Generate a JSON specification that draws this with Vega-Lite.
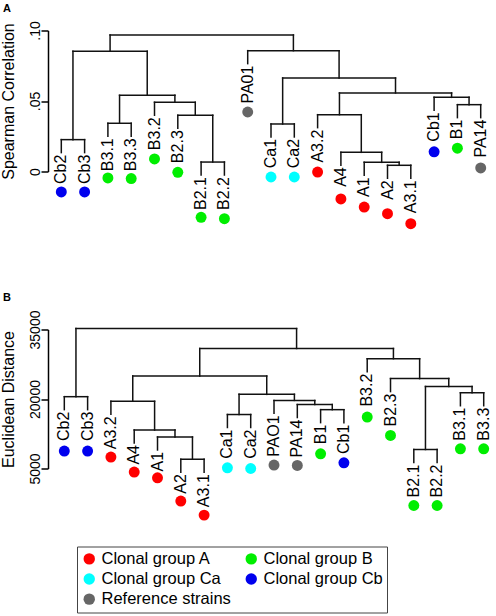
{
 "$schema": "https://vega.github.io/schema/vega-lite/v6.json",
 "padding": {"left": 0, "top": 2.5, "right": 2, "bottom": 0},
 "bounds": "flush",
 "spacing": 158,
 "config": {"view": {"stroke": null}, "font": "Liberation Sans", "axis": {"grid": false, "labelFlush": false, "labelOverlap": false, "domainColor": "#000", "tickColor": "#000", "labelColor": "#000", "titleColor": "#000", "domainWidth": 1.5, "tickWidth": 1.5, "tickSize": 7, "labelPadding": 1.5, "labelFontSize": 14, "labelAngle": 270, "labelAlign": "center", "labelBaseline": "alphabetic", "titleFontSize": 16, "titleFontWeight": "normal", "titlePadding": 12}},
 "datasets": {
  "nodesA": [
   {"x1":0,"x2":1,"h":0.0226,"h1":0.0134,"h2":0.0134},
   {"x1":2,"x2":3,"h":0.0342,"h1":0.025,"h2":0.025},
   {"x1":6,"x2":7,"h":0.0067,"h1":-0.0025,"h2":-0.0025},
   {"x1":5,"x2":6.5,"h":0.0399,"h1":0.0307,"h2":0.0067},
   {"x1":4,"x2":5.75,"h":0.0491,"h1":0.0399,"h2":0.0399},
   {"x1":2.5,"x2":4.875,"h":0.054,"h1":0.0342,"h2":0.0491},
   {"x1":0.5,"x2":3.6875,"h":0.0852,"h1":0.0226,"h2":0.054},
   {"x1":9,"x2":10,"h":0.0337,"h1":0.0245,"h2":0.0245},
   {"x1":14,"x2":15,"h":0.0044,"h1":-0.0048,"h2":-0.0048},
   {"x1":13,"x2":14.5,"h":0.0065,"h1":-0.0027,"h2":0.0044},
   {"x1":12,"x2":13.75,"h":0.0136,"h1":0.0044,"h2":0.0065},
   {"x1":11,"x2":12.875,"h":0.0403,"h1":0.0311,"h2":0.0136},
   {"x1":17,"x2":18,"h":0.0474,"h1":0.0382,"h2":0.0382},
   {"x1":16,"x2":17.5,"h":0.0526,"h1":0.0434,"h2":0.0474},
   {"x1":11.9375,"x2":16.75,"h":0.0557,"h1":0.0403,"h2":0.0526},
   {"x1":9.5,"x2":14.34375,"h":0.0663,"h1":0.0337,"h2":0.0557},
   {"x1":8,"x2":11.921875,"h":0.0857,"h1":0.0765,"h2":0.0663},
   {"x1":2.09375,"x2":9.9609375,"h":0.0968,"h1":0.0852,"h2":0.0857}
  ],
  "leavesA": [
   {"leaf":"Cb2","x":0,"end":0.0134,"pt":-0.0145,"group":"Clonal group Cb"},
   {"leaf":"Cb3","x":1,"end":0.0134,"pt":-0.0145,"group":"Clonal group Cb"},
   {"leaf":"B3.1","x":2,"end":0.025,"pt":-0.0046,"group":"Clonal group B"},
   {"leaf":"B3.3","x":3,"end":0.025,"pt":-0.005,"group":"Clonal group B"},
   {"leaf":"B3.2","x":4,"end":0.0399,"pt":0.0089,"group":"Clonal group B"},
   {"leaf":"B2.3","x":5,"end":0.0307,"pt":-0.0006,"group":"Clonal group B"},
   {"leaf":"B2.1","x":6,"end":-0.0025,"pt":-0.0325,"group":"Clonal group B"},
   {"leaf":"B2.2","x":7,"end":-0.0025,"pt":-0.0335,"group":"Clonal group B"},
   {"leaf":"PA01","x":8,"end":0.0765,"pt":0.0422,"group":"Reference strains"},
   {"leaf":"Ca1","x":9,"end":0.0245,"pt":-0.0039,"group":"Clonal group Ca"},
   {"leaf":"Ca2","x":10,"end":0.0245,"pt":-0.0039,"group":"Clonal group Ca"},
   {"leaf":"A3.2","x":11,"end":0.0311,"pt":-0.0004,"group":"Clonal group A"},
   {"leaf":"A4","x":12,"end":0.0044,"pt":-0.0195,"group":"Clonal group A"},
   {"leaf":"A1","x":13,"end":-0.0027,"pt":-0.0252,"group":"Clonal group A"},
   {"leaf":"A2","x":14,"end":-0.0048,"pt":-0.0299,"group":"Clonal group A"},
   {"leaf":"A3.1","x":15,"end":-0.0048,"pt":-0.037,"group":"Clonal group A"},
   {"leaf":"Cb1","x":16,"end":0.0434,"pt":0.014,"group":"Clonal group Cb"},
   {"leaf":"B1","x":17,"end":0.0382,"pt":0.0165,"group":"Clonal group B"},
   {"leaf":"PA14","x":18,"end":0.0382,"pt":0.0025,"group":"Reference strains"}
  ],
  "nodesB": [
   {"x1":0,"x2":1,"h":20500,"h1":17700,"h2":17700},
   {"x1":5,"x2":6,"h":7000,"h1":4200,"h2":4200},
   {"x1":4,"x2":5.5,"h":11800,"h1":9000,"h2":7000},
   {"x1":3,"x2":4.75,"h":13300,"h1":10500,"h2":11800},
   {"x1":2,"x2":3.875,"h":19500,"h1":16700,"h2":13300},
   {"x1":7,"x2":8,"h":16650,"h1":13850,"h2":13850},
   {"x1":11,"x2":12,"h":17700,"h1":14900,"h2":14900},
   {"x1":10,"x2":11.5,"h":18800,"h1":16000,"h2":17700},
   {"x1":9,"x2":10.75,"h":19700,"h1":16900,"h2":18800},
   {"x1":7.5,"x2":9.875,"h":21000,"h1":16650,"h2":19700},
   {"x1":2.9375,"x2":8.6875,"h":24950,"h1":19500,"h2":21000},
   {"x1":15,"x2":16,"h":9100,"h1":6300,"h2":6300},
   {"x1":17,"x2":18,"h":21350,"h1":18550,"h2":18550},
   {"x1":15.5,"x2":17.5,"h":22700,"h1":9100,"h2":21350},
   {"x1":14,"x2":16.5,"h":24400,"h1":21600,"h2":22700},
   {"x1":13,"x2":15.25,"h":28700,"h1":25900,"h2":24400},
   {"x1":5.8125,"x2":14.125,"h":30900,"h1":24950,"h2":28700},
   {"x1":0.5,"x2":9.96875,"h":35200,"h1":20500,"h2":30900}
  ],
  "leavesB": [
   {"leaf":"Cb2","x":0,"end":17700,"pt":8756,"group":"Clonal group Cb"},
   {"leaf":"Cb3","x":1,"end":17700,"pt":8756,"group":"Clonal group Cb"},
   {"leaf":"A3.2","x":2,"end":16700,"pt":7461,"group":"Clonal group A"},
   {"leaf":"A4","x":3,"end":10500,"pt":4223,"group":"Clonal group A"},
   {"leaf":"A1","x":4,"end":9000,"pt":2993,"group":"Clonal group A"},
   {"leaf":"A2","x":5,"end":4200,"pt":-2036,"group":"Clonal group A"},
   {"leaf":"A3.1","x":6,"end":4200,"pt":-5058,"group":"Clonal group A"},
   {"leaf":"Ca1","x":7,"end":13850,"pt":5151,"group":"Clonal group Ca"},
   {"leaf":"Ca2","x":8,"end":13850,"pt":5000,"group":"Clonal group Ca"},
   {"leaf":"PAO1","x":9,"end":16900,"pt":5734,"group":"Reference strains"},
   {"leaf":"PA14","x":10,"end":16000,"pt":5648,"group":"Reference strains"},
   {"leaf":"B1","x":11,"end":14900,"pt":8173,"group":"Clonal group B"},
   {"leaf":"Cb1","x":12,"end":14900,"pt":6230,"group":"Clonal group Cb"},
   {"leaf":"B3.2","x":13,"end":25900,"pt":16094,"group":"Clonal group B"},
   {"leaf":"B2.3","x":14,"end":21600,"pt":12123,"group":"Clonal group B"},
   {"leaf":"B2.1","x":15,"end":6300,"pt":-2986,"group":"Clonal group B"},
   {"leaf":"B2.2","x":16,"end":6300,"pt":-2986,"group":"Clonal group B"},
   {"leaf":"B3.1","x":17,"end":18550,"pt":9252,"group":"Clonal group B"},
   {"leaf":"B3.3","x":18,"end":18550,"pt":9252,"group":"Clonal group B"}
  ]
 },
 "vconcat": [
  {
   "width": 441, "height": 141,
   "title": {"text": "A", "anchor": "start", "frame": "group", "dx": -45, "offset": 7, "fontSize": 11, "fontWeight": "bold", "color": "#000"},
   "layer": [
    {"data": {"name": "nodesA"}, "mark": {"type": "rule", "color": "#111", "strokeWidth": 1.5, "strokeCap": "square"},
     "encoding": {
      "x": {"field": "x1", "type": "quantitative", "scale": {"domain": [-0.571, 18.356], "nice": false, "zero": false}, "axis": null},
      "x2": {"field": "x2"},
      "y": {"field": "h", "type": "quantitative", "scale": {"domain": [0, 0.1], "nice": false, "zero": false},
            "axis": {"title": "Spearman Correlation", "values": [0, 0.05, 0.1], "labelExpr": "datum.value == 0 ? '0' : (datum.value < 0.07 ? '.05' : '.10')"}}
     }},
    {"data": {"name": "nodesA"}, "mark": {"type": "rule", "color": "#111", "strokeWidth": 1.5, "strokeCap": "square"},
     "encoding": {
      "x": {"field": "x1", "type": "quantitative", "scale": {"domain": [-0.571, 18.356], "nice": false, "zero": false}, "axis": null},
      "y": {"field": "h", "type": "quantitative", "scale": {"domain": [0, 0.1], "nice": false, "zero": false},
            "axis": {"title": "Spearman Correlation", "values": [0, 0.05, 0.1], "labelExpr": "datum.value == 0 ? '0' : (datum.value < 0.07 ? '.05' : '.10')"}},
      "y2": {"field": "h1"}
     }},
    {"data": {"name": "nodesA"}, "mark": {"type": "rule", "color": "#111", "strokeWidth": 1.5, "strokeCap": "square"},
     "encoding": {
      "x": {"field": "x2", "type": "quantitative", "scale": {"domain": [-0.571, 18.356], "nice": false, "zero": false}, "axis": null},
      "y": {"field": "h", "type": "quantitative", "scale": {"domain": [0, 0.1], "nice": false, "zero": false},
            "axis": {"title": "Spearman Correlation", "values": [0, 0.05, 0.1], "labelExpr": "datum.value == 0 ? '0' : (datum.value < 0.07 ? '.05' : '.10')"}},
      "y2": {"field": "h2"}
     }},
    {"data": {"name": "leavesA"}, "mark": {"type": "text", "angle": 270, "align": "right", "baseline": "middle", "dx": -2, "fontSize": 16, "font": "Liberation Sans", "color": "#000"},
     "encoding": {
      "x": {"field": "x", "type": "quantitative", "scale": {"domain": [-0.571, 18.356], "nice": false, "zero": false}, "axis": null},
      "y": {"field": "end", "type": "quantitative", "scale": {"domain": [0, 0.1], "nice": false, "zero": false},
            "axis": {"title": "Spearman Correlation", "values": [0, 0.05, 0.1], "labelExpr": "datum.value == 0 ? '0' : (datum.value < 0.07 ? '.05' : '.10')"}},
      "text": {"field": "leaf"}
     }},
    {"data": {"name": "leavesA"}, "mark": {"type": "circle", "size": 120, "opacity": 1},
     "encoding": {
      "x": {"field": "x", "type": "quantitative", "scale": {"domain": [-0.571, 18.356], "nice": false, "zero": false}, "axis": null},
      "y": {"field": "pt", "type": "quantitative", "scale": {"domain": [0, 0.1], "nice": false, "zero": false},
            "axis": {"title": "Spearman Correlation", "values": [0, 0.05, 0.1], "labelExpr": "datum.value == 0 ? '0' : (datum.value < 0.07 ? '.05' : '.10')"}},
      "color": {"field": "group", "type": "nominal",
        "scale": {"domain": ["Clonal group A", "Clonal group Ca", "Reference strains", "Clonal group B", "Clonal group Cb"], "range": ["#ff0000", "#00ffff", "#666666", "#00ee00", "#0000ee"]},
        "legend": {"orient": "none", "legendX": 29, "legendY": 516, "columns": 2, "title": null, "labelFontSize": 16.5, "labelFont": "Liberation Sans", "labelColor": "#000", "symbolType": "circle", "symbolSize": 130, "symbolStrokeWidth": 0, "symbolOpacity": 1, "padding": 4, "strokeColor": "#444", "rowPadding": 3.2, "columnPadding": 12, "labelOffset": 4, "labelLimit": 300, "labelExpr": "datum.label == 'Clonal group Cb' ? datum.label + '\u00a0\u00a0\u00a0\u00a0' : datum.label"}}
     }}
   ]
  },
  {
   "width": 441, "height": 139,
   "title": {"text": "B", "anchor": "start", "frame": "group", "dx": -45, "offset": 7, "fontSize": 11, "fontWeight": "bold", "color": "#000"},
   "layer": [
    {"data": {"name": "nodesB"}, "mark": {"type": "rule", "color": "#111", "strokeWidth": 1.5, "strokeCap": "square"},
     "encoding": {
      "x": {"field": "x1", "type": "quantitative", "scale": {"domain": [-0.7, 18.227], "nice": false, "zero": false}, "axis": null},
      "x2": {"field": "x2"},
      "y": {"field": "h", "type": "quantitative", "scale": {"domain": [5000, 35000], "nice": false, "zero": false},
            "axis": {"title": "Euclidean Distance", "values": [5000, 20000, 35000], "format": "d"}}
     }},
    {"data": {"name": "nodesB"}, "mark": {"type": "rule", "color": "#111", "strokeWidth": 1.5, "strokeCap": "square"},
     "encoding": {
      "x": {"field": "x1", "type": "quantitative", "scale": {"domain": [-0.7, 18.227], "nice": false, "zero": false}, "axis": null},
      "y": {"field": "h", "type": "quantitative", "scale": {"domain": [5000, 35000], "nice": false, "zero": false},
            "axis": {"title": "Euclidean Distance", "values": [5000, 20000, 35000], "format": "d"}},
      "y2": {"field": "h1"}
     }},
    {"data": {"name": "nodesB"}, "mark": {"type": "rule", "color": "#111", "strokeWidth": 1.5, "strokeCap": "square"},
     "encoding": {
      "x": {"field": "x2", "type": "quantitative", "scale": {"domain": [-0.7, 18.227], "nice": false, "zero": false}, "axis": null},
      "y": {"field": "h", "type": "quantitative", "scale": {"domain": [5000, 35000], "nice": false, "zero": false},
            "axis": {"title": "Euclidean Distance", "values": [5000, 20000, 35000], "format": "d"}},
      "y2": {"field": "h2"}
     }},
    {"data": {"name": "leavesB"}, "mark": {"type": "text", "angle": 270, "align": "right", "baseline": "middle", "dx": -2, "fontSize": 16, "font": "Liberation Sans", "color": "#000"},
     "encoding": {
      "x": {"field": "x", "type": "quantitative", "scale": {"domain": [-0.7, 18.227], "nice": false, "zero": false}, "axis": null},
      "y": {"field": "end", "type": "quantitative", "scale": {"domain": [5000, 35000], "nice": false, "zero": false},
            "axis": {"title": "Euclidean Distance", "values": [5000, 20000, 35000], "format": "d"}},
      "text": {"field": "leaf"}
     }},
    {"data": {"name": "leavesB"}, "mark": {"type": "circle", "size": 120, "opacity": 1},
     "encoding": {
      "x": {"field": "x", "type": "quantitative", "scale": {"domain": [-0.7, 18.227], "nice": false, "zero": false}, "axis": null},
      "y": {"field": "pt", "type": "quantitative", "scale": {"domain": [5000, 35000], "nice": false, "zero": false},
            "axis": {"title": "Euclidean Distance", "values": [5000, 20000, 35000], "format": "d"}},
      "color": {"field": "group", "type": "nominal",
        "scale": {"domain": ["Clonal group A", "Clonal group Ca", "Reference strains", "Clonal group B", "Clonal group Cb"], "range": ["#ff0000", "#00ffff", "#666666", "#00ee00", "#0000ee"]},
        "legend": {"orient": "none", "legendX": 29, "legendY": 516, "columns": 2, "title": null, "labelFontSize": 16.5, "labelFont": "Liberation Sans", "labelColor": "#000", "symbolType": "circle", "symbolSize": 130, "symbolStrokeWidth": 0, "symbolOpacity": 1, "padding": 4, "strokeColor": "#444", "rowPadding": 3.2, "columnPadding": 12, "labelOffset": 4, "labelLimit": 300, "labelExpr": "datum.label == 'Clonal group Cb' ? datum.label + '\u00a0\u00a0\u00a0\u00a0' : datum.label"}}
     }}
   ]
  }
 ]
}
